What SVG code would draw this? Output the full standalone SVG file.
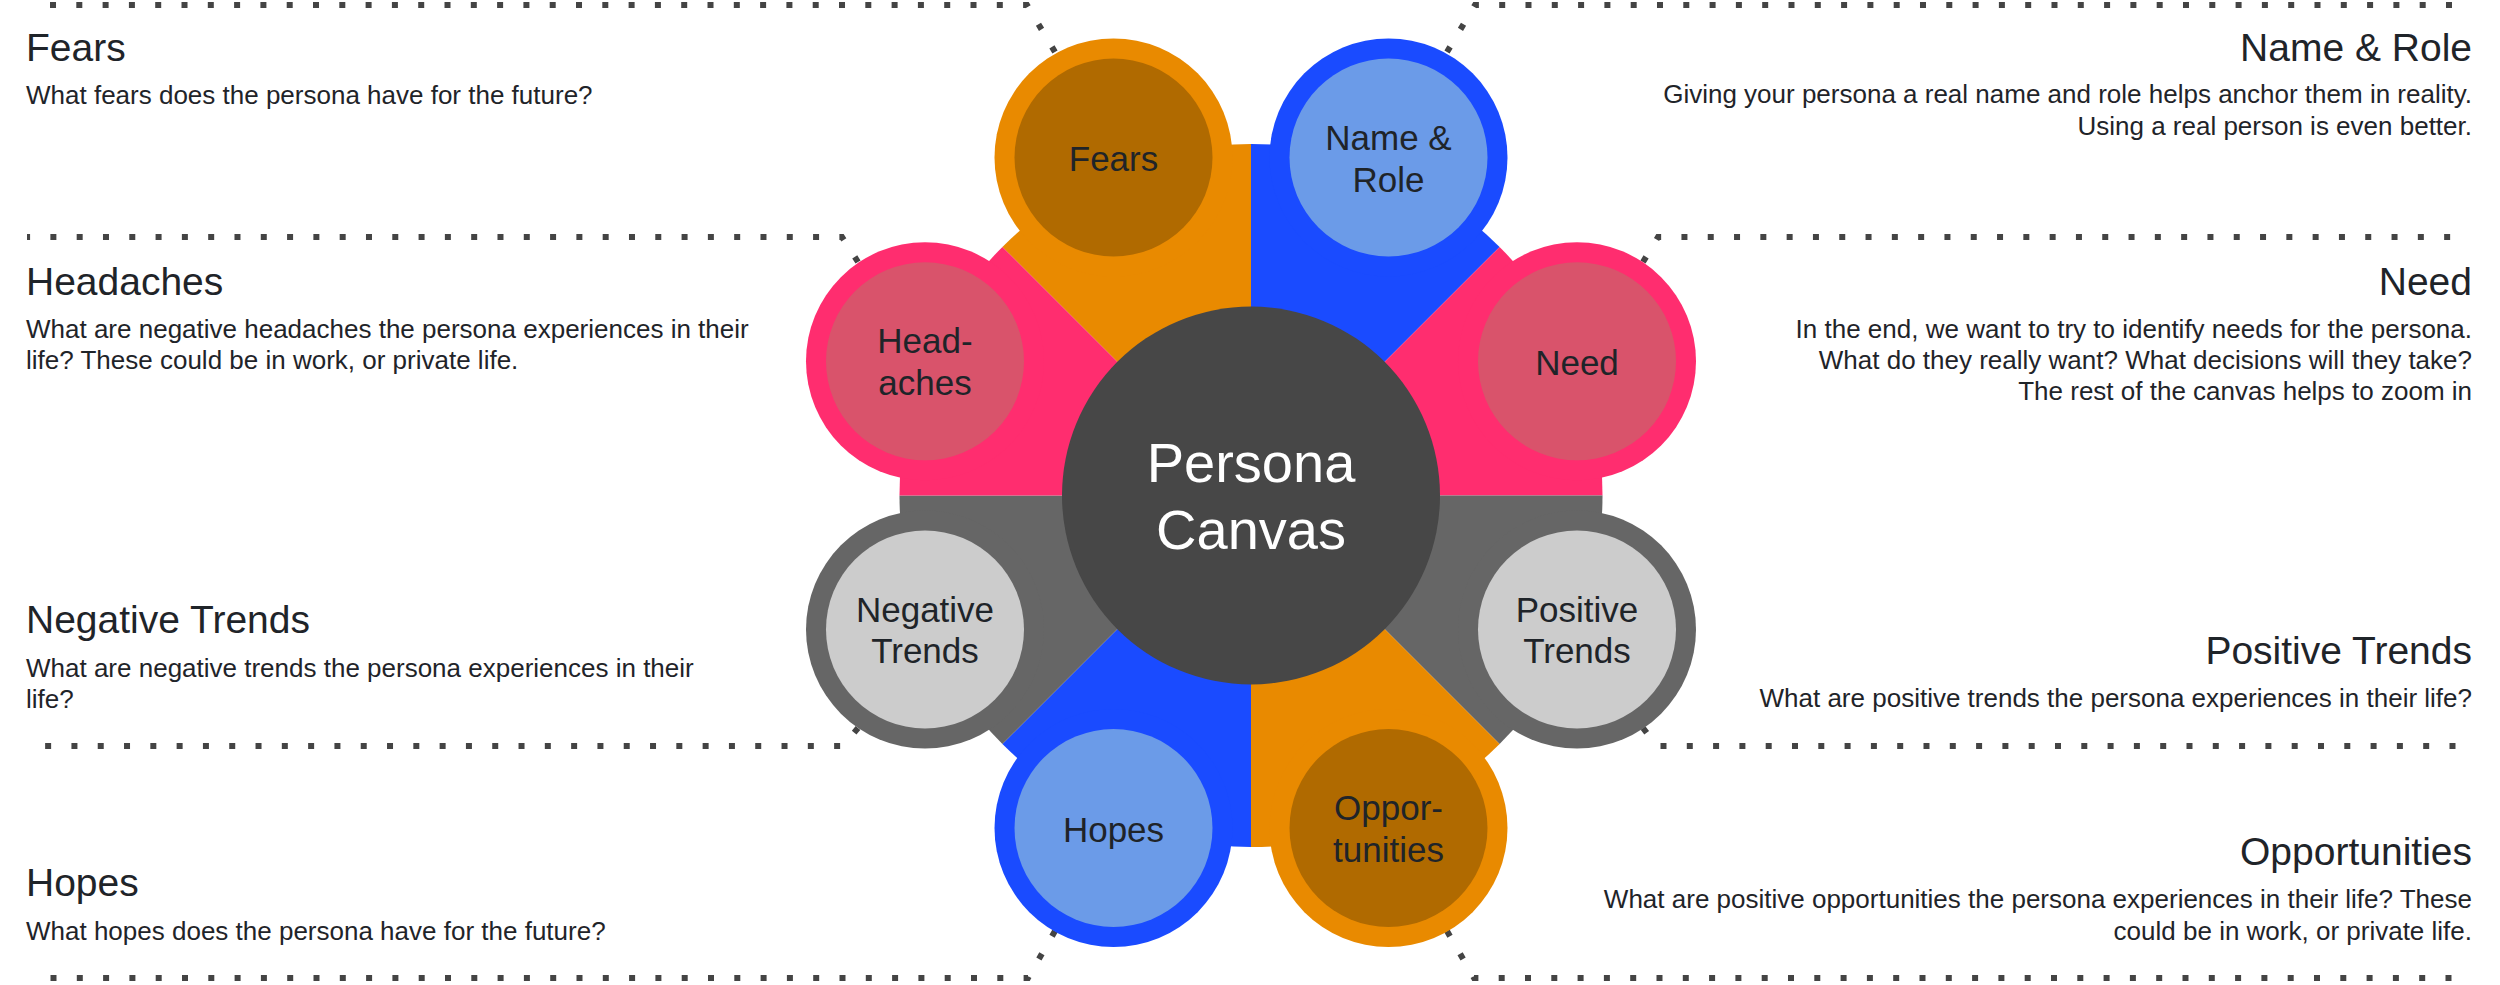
<svg xmlns="http://www.w3.org/2000/svg" width="2500" height="985" viewBox="0 0 2500 985">
<style>
  text { font-family: "Liberation Sans", Arial, sans-serif; fill: #1f2429; }
  .title { font-size: 39px; }
  .desc { font-size: 26px; }
  .lbl { font-size: 35px; text-anchor: middle; }
  .ctr { font-size: 56px; text-anchor: middle; fill: #ffffff; }
  .end { text-anchor: end; }
  .dots { fill: none; stroke: #444444; stroke-width: 6; stroke-dasharray: 6 20.3; }
  .orange { fill: #e98a00; }
  .brown { fill: #b06a00; }
  .blue { fill: #1a4bff; }
  .lblue { fill: #6b9be8; }
  .pink { fill: #ff2d6f; }
  .lpink { fill: #d9536b; }
  .grey { fill: #666666; }
  .lgrey { fill: #cccccc; }
</style>
<rect width="2500" height="985" fill="#ffffff"/>
<g id="connectors">
  <path class="dots" d="M1055 52 L1027 5 H37"/>
  <path class="dots" d="M1447 52 L1475 5 H2465"/>
  <path class="dots" d="M858 262 L842 237 H27"/>
  <path class="dots" d="M1643 262 L1658 237 H2470"/>
  <path class="dots" d="M858 728 L843 746 H27"/>
  <path class="dots" d="M1643 728 L1657 746 H2470"/>
  <path class="dots" d="M1055 931 L1028 978 H37"/>
  <path class="dots" d="M1447 931 L1474 978 H2465"/>
</g>
<g id="wedges">
  <path class="orange" d="M1251 495.5 L1251 144 A351.5 351.5 0 0 0 1002.4 246.9 Z"/>
  <path class="blue" d="M1251 495.5 L1499.6 246.9 A351.5 351.5 0 0 0 1251 144 Z"/>
  <path class="pink" d="M1251 495.5 L1602.5 495.5 A351.5 351.5 0 0 0 1499.6 246.9 Z"/>
  <path class="grey" d="M1251 495.5 L1499.6 744.1 A351.5 351.5 0 0 0 1602.5 495.5 Z"/>
  <path class="orange" d="M1251 495.5 L1251 847 A351.5 351.5 0 0 0 1499.6 744.1 Z"/>
  <path class="blue" d="M1251 495.5 L1002.4 744.1 A351.5 351.5 0 0 0 1251 847 Z"/>
  <path class="grey" d="M1251 495.5 L899.5 495.5 A351.5 351.5 0 0 0 1002.4 744.1 Z"/>
  <path class="pink" d="M1251 495.5 L1002.4 246.9 A351.5 351.5 0 0 0 899.5 495.5 Z"/>
</g>
<g id="fears">
  <circle class="orange" cx="1113.5" cy="157.5" r="119"/>
  <circle class="brown" cx="1113.5" cy="157.5" r="99"/>
  <text class="lbl" x="1113.5" y="171">Fears</text>
</g>
<g id="name-role">
  <circle class="blue" cx="1388.5" cy="157.5" r="119"/>
  <circle class="lblue" cx="1388.5" cy="157.5" r="99"/>
  <text class="lbl" x="1388.5" y="150">Name &amp;</text>
  <text class="lbl" x="1388.5" y="192">Role</text>
</g>
<g id="headaches">
  <circle class="pink" cx="925" cy="361.3" r="119"/>
  <circle class="lpink" cx="925" cy="361.3" r="99"/>
  <text class="lbl" x="925" y="353">Head-</text>
  <text class="lbl" x="925" y="395">aches</text>
</g>
<g id="need">
  <circle class="pink" cx="1577" cy="361.3" r="119"/>
  <circle class="lpink" cx="1577" cy="361.3" r="99"/>
  <text class="lbl" x="1577" y="375">Need</text>
</g>
<g id="negative-trends">
  <circle class="grey" cx="925" cy="629.5" r="119"/>
  <circle class="lgrey" cx="925" cy="629.5" r="99"/>
  <text class="lbl" x="925" y="622">Negative</text>
  <text class="lbl" x="925" y="663">Trends</text>
</g>
<g id="positive-trends">
  <circle class="grey" cx="1577" cy="629.5" r="119"/>
  <circle class="lgrey" cx="1577" cy="629.5" r="99"/>
  <text class="lbl" x="1577" y="622">Positive</text>
  <text class="lbl" x="1577" y="663">Trends</text>
</g>
<g id="hopes">
  <circle class="blue" cx="1113.5" cy="828" r="119"/>
  <circle class="lblue" cx="1113.5" cy="828" r="99"/>
  <text class="lbl" x="1113.5" y="842">Hopes</text>
</g>
<g id="opportunities">
  <circle class="orange" cx="1388.5" cy="828" r="119"/>
  <circle class="brown" cx="1388.5" cy="828" r="99"/>
  <text class="lbl" x="1388.5" y="820">Oppor-</text>
  <text class="lbl" x="1388.5" y="862">tunities</text>
</g>
<g id="persona-canvas">
  <circle cx="1251" cy="495.5" r="189" fill="#474747"/>
  <text class="ctr" x="1251" y="482">Persona</text>
  <text class="ctr" x="1251" y="549">Canvas</text>
</g>
<g id="text-fears">
  <text class="title" x="26" y="61">Fears</text>
  <text class="desc" x="26" y="104">What fears does the persona have for the future?</text>
</g>
<g id="text-headaches">
  <text class="title" x="26" y="295">Headaches</text>
  <text class="desc" x="26" y="338">What are negative headaches the persona experiences in their</text>
  <text class="desc" x="26" y="369">life? These could be in work, or private life.</text>
</g>
<g id="text-negative-trends">
  <text class="title" x="26" y="633">Negative Trends</text>
  <text class="desc" x="26" y="677">What are negative trends the persona experiences in their</text>
  <text class="desc" x="26" y="708">life?</text>
</g>
<g id="text-hopes">
  <text class="title" x="26" y="896">Hopes</text>
  <text class="desc" x="26" y="940">What hopes does the persona have for the future?</text>
</g>
<g id="text-name-role">
  <text class="title end" x="2472" y="61">Name &amp; Role</text>
  <text class="desc end" x="2472" y="103">Giving your persona a real name and role helps anchor them in reality.</text>
  <text class="desc end" x="2472" y="135">Using a real person is even better.</text>
</g>
<g id="text-need">
  <text class="title end" x="2472" y="295">Need</text>
  <text class="desc end" x="2472" y="338">In the end, we want to try to identify needs for the persona.</text>
  <text class="desc end" x="2472" y="369">What do they really want? What decisions will they take?</text>
  <text class="desc end" x="2472" y="400">The rest of the canvas helps to zoom in</text>
</g>
<g id="text-positive-trends">
  <text class="title end" x="2472" y="664">Positive Trends</text>
  <text class="desc end" x="2472" y="707">What are positive trends the persona experiences in their life?</text>
</g>
<g id="text-opportunities">
  <text class="title end" x="2472" y="865">Opportunities</text>
  <text class="desc end" x="2472" y="908">What are positive opportunities the persona experiences in their life? These</text>
  <text class="desc end" x="2472" y="940">could be in work, or private life.</text>
</g>
</svg>
